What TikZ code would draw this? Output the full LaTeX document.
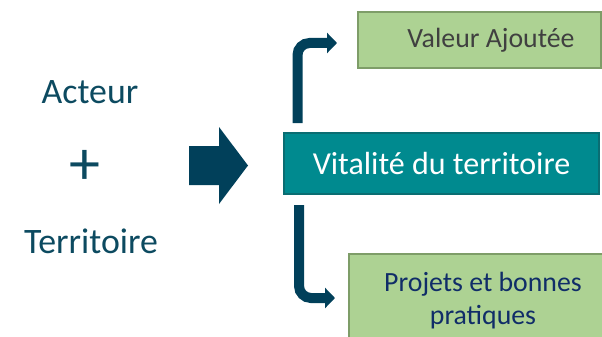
\documentclass[tikz,border=0pt]{standalone}
\usepackage{fontspec}
\setmainfont{Carlito}
\usetikzlibrary{arrows.meta,positioning}

\definecolor{navy}{HTML}{01405A}
\definecolor{lefttext}{HTML}{0C4A60}
\definecolor{tealfill}{HTML}{008A8F}
\definecolor{tealline}{HTML}{0A6D72}
\definecolor{greenfill}{HTML}{ADD293}
\definecolor{greenline}{HTML}{7E9D68}
\definecolor{darkblue}{HTML}{102D68}

\tikzset{
  bigtext/.style={text=lefttext, font=\fontsize{35.8}{43}\selectfont, anchor=base, inner sep=0pt},
  greenbox/.style={rectangle, draw=greenline, fill=greenfill, line width=2pt, inner sep=0pt, anchor=north west},
  conn/.style={draw=navy, line width=10pt, rounded corners=12pt, -{Triangle[width=20pt,length=10pt]}},
}

\begin{document}
\begin{tikzpicture}[x=1pt,y=-1pt]
  \useasboundingbox (0,0) rectangle (602,337);
  \clip (0,0) rectangle (602,337);

  % left side
  \node[bigtext] (acteur) at (90,103) {Acteur};
  \node[text=lefttext, font=\fontsize{62}{62}\selectfont, inner sep=0pt] (plus) at (85,167) {+};
  \node[bigtext] (terr) at (91,253) {Territoire};

  % big arrow
  \fill[navy] (189,146) -- (219,146) -- (219,127) -- (248,165.5)
    -- (219,204) -- (219,185) -- (189,185) -- cycle;

  % boxes
  \node[rectangle, draw=tealline, fill=tealfill, line width=2pt, anchor=north west,
    minimum width=315, minimum height=61, text=white,
    font=\fontsize{32}{38}\selectfont] (vitalite) at (283,132) {Vitalité du territoire};
  \node[greenbox, minimum width=243, minimum height=56, text=black!75,
    font=\fontsize{27.8}{33}\selectfont] (valeur) at (357,11) {\hspace*{23pt}Valeur Ajoutée};
  \node[greenbox, minimum width=268, minimum height=94, text=darkblue, align=center,
    font=\fontsize{27.8}{33}\selectfont] (projets) at (348,253) {Projets et bonnes\\pratiques};

  % connectors
  \draw[conn] ([xshift=14.5pt,yshift=9pt]vitalite.north west) |- ([xshift=-20pt,yshift=-3pt]valeur.west);
  \draw[conn] ([xshift=16pt,yshift=-10pt]vitalite.south west) |- ([xshift=-13pt,yshift=3pt]projets.west);
\end{tikzpicture}
\end{document}
